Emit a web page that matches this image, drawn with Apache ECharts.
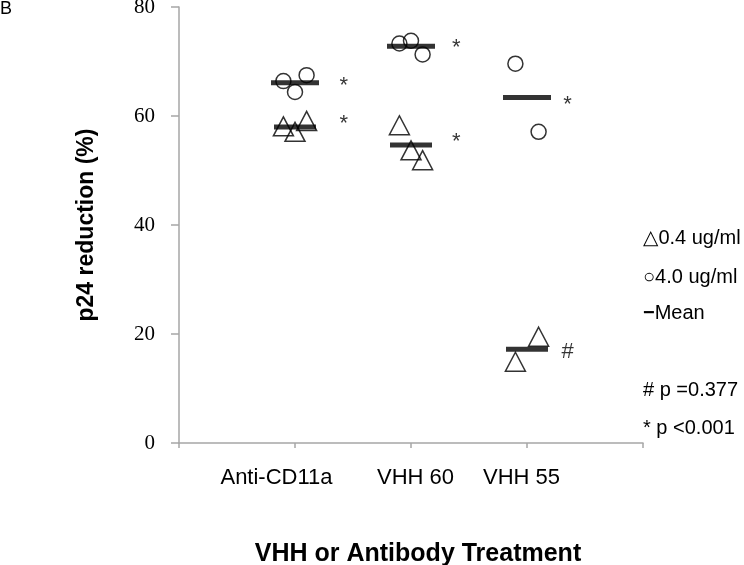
<!DOCTYPE html>
<html>
<head>
<meta charset="utf-8">
<script src="https://cdn.jsdelivr.net/npm/echarts@6/dist/echarts.min.js"></script>
<style>
  html, body { margin: 0; padding: 0; background: #fff; }
  #chart { width: 744px; height: 565px; }
</style>
</head>
<body>
<div id="chart"></div>
<script>
const treatments = ['Anti-CD11a', 'VHH 60', 'VHH 55'];
// x = treatment slot (1..3) with a small jitter, y = p24 reduction (%)
const low04 = [[0.9, 58.1], [1.0, 57.1], [1.1, 59.1], [1.9, 58.3], [2.0, 53.7], [2.1, 51.9], [2.9, 14.9], [3.1, 19.5]];
const high40 = [[0.9, 66.4], [1.0, 64.4], [1.1, 67.5], [1.9, 73.3], [2.0, 73.8], [2.1, 71.3], [2.9, 69.6], [3.1, 57.1]];
const meanLow = [58.0, 54.7, 17.2];
const meanHigh = [66.1, 72.8, 63.4];
const sigMarks = [[1.42, 66.0, '*'], [1.42, 59.1, '*'], [2.39, 73.0, '*'], [2.39, 55.7, '*'], [3.35, 62.6, '*'], [3.35, 16.9, '#']];
const yTicks = [0, 20, 40, 60, 80];
const legendLines = ['△0.4 ug/ml', '○4.0 ug/ml', '{d|−}Mean', '# p =0.377', '* p <0.001'];

const chart = echarts.init(document.getElementById('chart'));
const sans = 'Liberation Sans, Arial, DejaVu Sans, sans-serif';
const hollow = { color: 'rgba(0,0,0,0)', borderColor: '#000', borderWidth: 1.5 };
const legendY = [238, 277, 313, 390, 428];
const labelStyle = ['a', 'b', 'c'];

const option = {
  backgroundColor: '#fff',
  animation: false,
  textStyle: { fontFamily: sans },
  grid: { left: 179, right: 101, top: 7, bottom: 122, containLabel: false, outerBoundsMode: 'none' },
  xAxis: {
    type: 'value',
    min: 0,
    max: 4,
    interval: 1,
    splitLine: { show: false },
    axisLine: { lineStyle: { color: '#a6a6a6', width: 1.5 } },
    axisTick: { show: true, length: 5, lineStyle: { color: '#a6a6a6', width: 1.5 } },
    axisLabel: {
      margin: 24,
      fontSize: 22,
      color: '#000',
      fontFamily: sans,
      formatter: v => (v >= 1 && v <= 3) ? '{' + labelStyle[v - 1] + '|' + treatments[v - 1] + '}' : '',
      rich: {
        a: { fontSize: 22, fontFamily: sans, padding: [0, 37, 0, 0] },
        b: { fontSize: 22, fontFamily: sans, padding: [0, 0, 0, 9] },
        c: { fontSize: 22, fontFamily: sans, padding: [0, 11, 0, 0] }
      }
    },
    name: 'VHH or Antibody Treatment',
    nameLocation: 'middle',
    nameGap: 99,
    nameTextStyle: { fontSize: 25, fontWeight: 'bold', color: '#000', padding: [0, 0, 0, 14] }
  },
  yAxis: {
    type: 'value',
    min: yTicks[0],
    max: yTicks[yTicks.length - 1],
    interval: yTicks[1] - yTicks[0],
    splitLine: { show: false },
    axisLine: { show: true, lineStyle: { color: '#a6a6a6', width: 1.5 } },
    axisTick: { show: true, length: 8, lineStyle: { color: '#a6a6a6', width: 1.5 } },
    axisLabel: { margin: 24, fontSize: 21, color: '#000', fontFamily: 'Liberation Serif, serif' },
    name: 'p24 reduction (%)',
    nameLocation: 'middle',
    nameGap: 81,
    nameTextStyle: { fontSize: 23, fontWeight: 'bold', color: '#000' }
  },
  series: [
    {
      name: '0.4 ug/ml',
      type: 'scatter',
      symbol: 'triangle',
      symbolSize: [20, 19],
      itemStyle: hollow,
      data: low04,
      z: 2
    },
    {
      name: '4.0 ug/ml',
      type: 'scatter',
      symbol: 'circle',
      symbolSize: 15,
      itemStyle: hollow,
      data: high40,
      z: 2
    },
    {
      name: 'Mean 0.4',
      type: 'scatter',
      symbol: 'rect',
      symbolSize: [42, 5],
      itemStyle: { color: '#000' },
      data: meanLow.map((v, i) => [i + 1, v]),
      z: 3
    },
    {
      name: 'Mean 4.0',
      type: 'scatter',
      symbol: 'rect',
      symbolSize: [48, 5],
      itemStyle: { color: '#000' },
      data: meanHigh.map((v, i) => [i + 1, v]),
      z: 3
    },
    {
      name: 'Significance',
      type: 'scatter',
      symbolSize: 0,
      silent: true,
      data: sigMarks.map(m => ({
        value: [m[0], m[1]],
        label: {
          show: true,
          formatter: m[2],
          fontSize: 22,
          fontFamily: sans,
          color: '#000',
          offset: [0, m[2] === '*' ? 3 : 1]
        }
      })),
      label: { show: true, position: 'inside', fontSize: 22, color: '#000', fontFamily: sans },
      z: 4
    }
  ],
  graphic: [
    {
      type: 'text',
      x: 0,
      y: 9,
      style: { text: 'B', fontSize: 18, fontFamily: sans, fill: '#000', verticalAlign: 'middle' }
    }
  ].concat(legendLines.map((t, i) => ({
    type: 'text',
    x: 643,
    y: legendY[i],
    style: {
      text: t,
      fontSize: 20,
      fontFamily: sans,
      fill: '#000',
      verticalAlign: 'middle',
      rich: { d: { fontWeight: 'bold', fontSize: 20, fontFamily: sans } }
    }
  })))
};

chart.setOption(option);
window.addEventListener('resize', () => chart.resize());
</script>
</body>
</html>
